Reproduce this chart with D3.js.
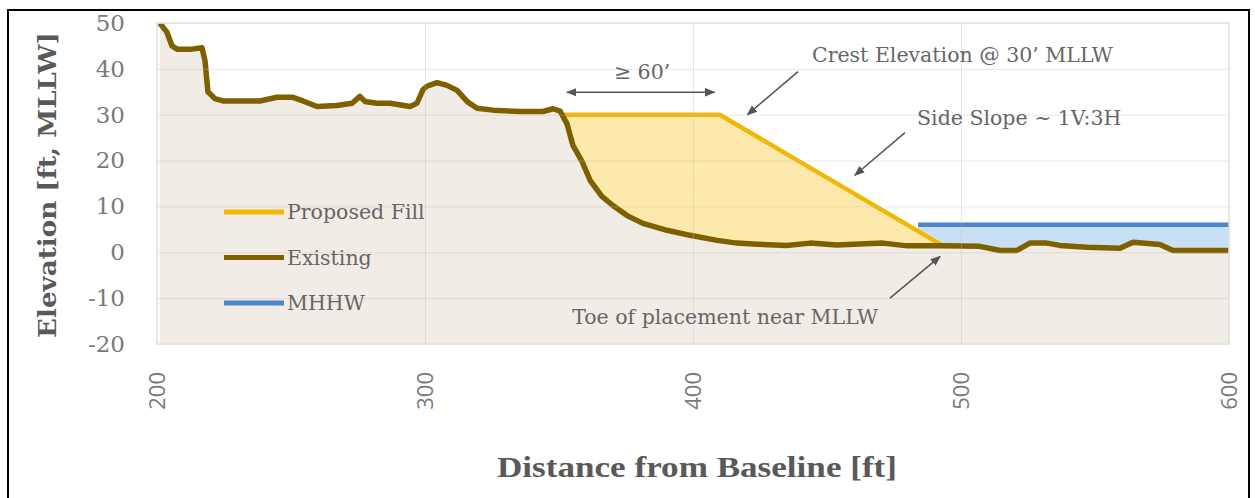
<!DOCTYPE html>
<html>
<head>
<meta charset="utf-8">
<script src="https://cdn.jsdelivr.net/npm/d3@7"></script>
<style>
  body { margin: 0; background: #fff; }
  svg { display: block; }
</style>
</head>
<body>
<svg id="display"></svg>
<script>
// surveyed ground profile, [distance ft, elevation ft MLLW]
const existingProfile = [
  [201, 50], [203.7, 48], [205.6, 45], [207.5, 44.3], [213, 44.3], [216.8, 44.6],
  [217.9, 41.8], [219, 35], [221.6, 33.5], [224.6, 33], [238.4, 33], [244.8, 33.8],
  [250.7, 33.8], [254.5, 33], [259.7, 31.8], [267, 32], [272.8, 32.5], [275.7, 34],
  [277.6, 32.9], [282, 32.5], [287, 32.5], [294.4, 31.8], [297, 32.5], [299.3, 35.5],
  [300.7, 36.2], [304.5, 37], [308.2, 36.4], [312, 35.3], [315.7, 32.9], [319.4, 31.4],
  [325.4, 31], [335.4, 30.7], [344, 30.7], [347.8, 31.3], [350.4, 30.8], [353, 28],
  [355.2, 23.3], [358.6, 19.8], [361.6, 15.7], [366, 12.2], [370.1, 10.2], [375.4, 8],
  [381.3, 6.3], [390.3, 4.8], [398.9, 3.7], [409, 2.6], [416.4, 2], [422.4, 1.8],
  [435, 1.5], [443.7, 2], [453.7, 1.6], [470.9, 2], [479.9, 1.4], [493.3, 1.4],
  [507, 1.3], [514.6, 0.4], [520.9, 0.4], [525.7, 2], [532, 2], [536.9, 1.5],
  [547, 1.1], [559.3, 0.9], [564.2, 2.2], [574.2, 1.7], [579.1, 0.4], [600, 0.4]
]
const proposedFill = [[351, 30], [410, 30], [493, 1.5]]
const mhhwLine = [[484, 6], [600, 6]]

const xTicks = [200, 300, 400, 500, 600]
const yTicks = [-20, -10, 0, 10, 20, 30, 40, 50]
const legendNames = ['Proposed Fill', 'Existing', 'MHHW']
const legendColors = ['#f2b705', '#7f6000', '#4a86c8']

// annotation text: [label, x, y, anchor] in data units
const notes = [
  ['\u2265 60\u2019', 381, 37.8, 'middle'],
  ['Crest Elevation @ 30\u2019 MLLW', 444.4, 41.4, 'start'],
  ['Side Slope ~ 1V:3H', 483.6, 27.8, 'start'],
  ['Toe of placement near MLLW', 354.9, -15.6, 'start']
]
// arrows: [x1, y1, x2, y2, double]
const arrows = [
  [353, 34.9, 408, 34.9, true],
  [439.2, 39.4, 420.3, 30, false],
  [479.1, 26.1, 460.4, 16.8, false],
  [473.5, -10, 492.2, -0.9, false]
]

let svg = d3.select('#display')
width = 1255
height = 498
svg.attr('width', width).attr('height', height)

const pLeft = 157, pRight = 1229, pTop = 23, pBottom = 344

const x = d3.scaleLinear().domain([200, 600]).range([pLeft, pRight])
const y = d3.scaleLinear().domain([-20, 50]).range([pBottom, pTop])

// outer frame
svg.append('rect')
  .attr('x', 8).attr('y', 10).attr('width', 1241).attr('height', 500)
  .attr('fill', 'none').attr('stroke', '#000').attr('stroke-width', 2)

const defs = svg.append('defs')
defs.append('clipPath').attr('id', 'plot')
  .append('rect').attr('x', pLeft).attr('y', pTop).attr('width', pRight - pLeft).attr('height', pBottom - pTop)
defs.append('marker')
  .attr('id', 'head').attr('viewBox', '0 0 10 10').attr('refX', 9).attr('refY', 5)
  .attr('markerWidth', 7).attr('markerHeight', 7).attr('orient', 'auto-start-reverse')
  .append('path').attr('d', 'M0,1 L10,5 L0,9 Z').attr('fill', '#555')

const plot = svg.append('g').attr('clip-path', 'url(#plot)')

// MHHW water band
plot.append('path')
  .datum(mhhwLine)
  .attr('fill', '#c9e0f4')
  .attr('d', d3.area().x(d => x(d[0])).y0(y(-20)).y1(d => y(d[1])))

// fill polygon
plot.append('path')
  .datum(proposedFill)
  .attr('fill', '#fde9ab')
  .attr('d', d3.area().x(d => x(d[0])).y0(y(-20)).y1(d => y(d[1])))

// ground
plot.append('path')
  .datum(existingProfile)
  .attr('fill', '#f2ece6')
  .attr('d', d3.area().x(d => x(d[0])).y0(y(-20)).y1(d => y(d[1])))

// gridlines
svg.append('g')
  .attr('transform', 'translate(0,' + pBottom + ')')
  .call(d3.axisBottom(x).tickValues(xTicks).tickSize(-(pBottom - pTop)).tickFormat(''))
  .call(g => g.select('.domain').remove())
  .selectAll('line').attr('stroke', 'rgba(190,190,190,0.35)')
svg.append('g')
  .attr('transform', 'translate(' + pLeft + ',0)')
  .call(d3.axisLeft(y).tickValues(yTicks).tickSize(-(pRight - pLeft)).tickFormat(''))
  .call(g => g.select('.domain').remove())
  .selectAll('line').attr('stroke', 'rgba(190,190,190,0.35)')

svg.append('rect')
  .attr('x', pLeft).attr('y', pTop).attr('width', pRight - pLeft).attr('height', pBottom - pTop)
  .attr('fill', 'none').attr('stroke', '#e2e2e2').attr('stroke-width', 1.5)

const line = d3.line().x(d => x(d[0])).y(d => y(d[1]))

plot.append('path').datum(mhhwLine).attr('d', line)
  .attr('fill', 'none').attr('stroke', legendColors[2]).attr('stroke-width', 4.5)
plot.append('path').datum(proposedFill).attr('d', line)
  .attr('fill', 'none').attr('stroke', legendColors[0]).attr('stroke-width', 4.5)
plot.append('path').datum(existingProfile).attr('d', line)
  .attr('fill', 'none').attr('stroke', legendColors[1]).attr('stroke-width', 5.5)
  .attr('stroke-linejoin', 'round')

// axes labels
const yAxis = svg.append('g')
  .attr('transform', 'translate(' + pLeft + ',0)')
  .call(d3.axisLeft(y).tickValues(yTicks).tickSize(0).tickPadding(32).tickFormat(d => String(d)))
yAxis.select('.domain').remove()
yAxis.selectAll('text')
  .attr('font-family', 'DejaVu Serif').attr('font-size', 23).attr('fill', '#7a7a7a')

const xAxis = svg.append('g')
  .attr('transform', 'translate(0,' + pBottom + ')')
  .call(d3.axisBottom(x).tickValues(xTicks).tickSize(0))
xAxis.select('.domain').remove()
xAxis.selectAll('text')
  .attr('font-family', 'Open Sans').attr('font-size', 22).attr('fill', '#7a7a7a')
  .attr('text-anchor', 'end').attr('dy', '0.35em')
  .attr('transform', 'translate(0,28) rotate(-90)')
  .attr('x', 0).attr('y', 0)

svg.append('text')
  .attr('x', 697).attr('y', 477)
  .attr('text-anchor', 'middle')
  .attr('font-family', 'Liberation Serif').attr('font-weight', 'bold').attr('font-size', 30)
  .attr('fill', '#595959')
  .attr('textLength', 400).attr('lengthAdjust', 'spacingAndGlyphs')
  .text('Distance from Baseline [ft]')

svg.append('text')
  .attr('transform', 'translate(56,185) rotate(-90)')
  .attr('text-anchor', 'middle')
  .attr('font-family', 'DejaVu Serif').attr('font-weight', 'bold').attr('font-size', 25)
  .attr('fill', '#595959')
  .attr('textLength', 306).attr('lengthAdjust', 'spacingAndGlyphs')
  .text('Elevation [ft, MLLW]')

// legend
const legend = svg.append('g')
legendNames.forEach((name, i) => {
  const ly = 212 + i * 45.5
  legend.append('line')
    .attr('x1', 224).attr('x2', 284).attr('y1', ly).attr('y2', ly)
    .attr('stroke', legendColors[i]).attr('stroke-width', 5)
  legend.append('text')
    .attr('x', 287).attr('y', ly).attr('dy', '0.35em')
    .attr('font-family', 'DejaVu Serif').attr('font-size', 20.5).attr('fill', '#666')
    .text(name)
})

// annotations
notes.forEach(n => {
  svg.append('text')
    .attr('x', x(n[1])).attr('y', y(n[2]))
    .attr('text-anchor', n[3])
    .attr('font-family', 'DejaVu Serif').attr('font-size', 20.5).attr('fill', '#666')
    .text(n[0])
})
arrows.forEach(a => {
  svg.append('line')
    .attr('x1', x(a[0])).attr('y1', y(a[1])).attr('x2', x(a[2])).attr('y2', y(a[3]))
    .attr('stroke', '#555').attr('stroke-width', 1.5)
    .attr('marker-end', 'url(#head)')
    .attr('marker-start', a[4] ? 'url(#head)' : null)
})
</script>
</body>
</html>
